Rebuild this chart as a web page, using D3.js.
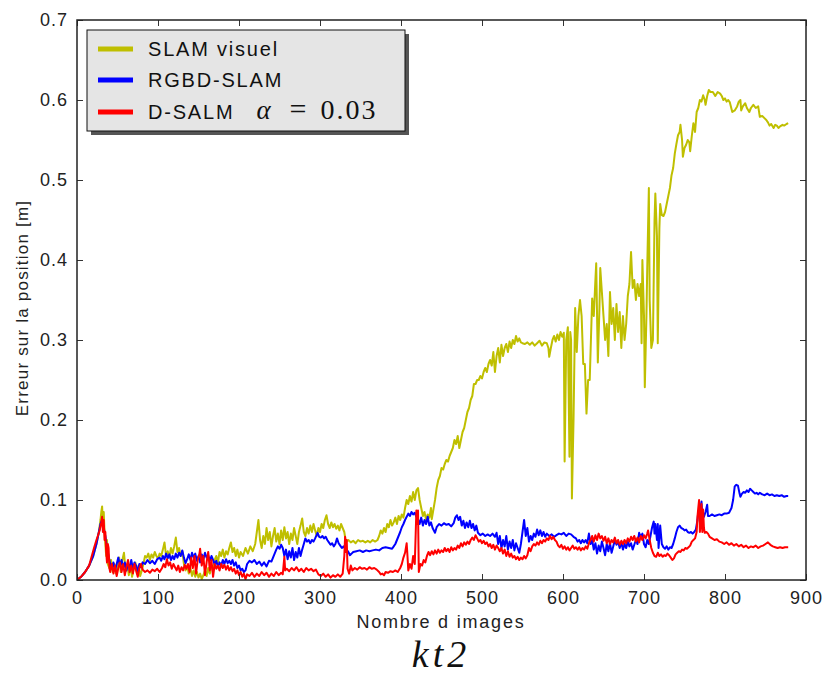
<!DOCTYPE html>
<html><head><meta charset="utf-8">
<script src="https://cdn.jsdelivr.net/npm/d3@7"></script>
<style>body{margin:0;background:#fff;} svg{display:block;}</style>
</head><body>
<div id="chart"></div>
<script>
const seriesNames = ["SLAM visuel", "RGBD-SLAM", "D-SALM"];
const xTicks = [0,100,200,300,400,500,600,700,800,900];
const yTicks = [0.0,0.1,0.2,0.3,0.4,0.5,0.6,0.7];

const yellowFrames = [0,5,10,15,20,24,27,29,30,31,32,33,34,35,36,37,38,40,42,44,46,48,50,52,54,56,58,60,62,64,66,68,70,72,74,76,78,80,82,84,86,88,90,92,94,96,98,100,102,104,106,108,110,112,114,116,118,120,122,124,126,128,130,132,134,136,138,140,142,144,146,148,150,152,154,156,158,160,162,164,166,168,170,172,174,176,178,180,182,184,186,188,190,192,194,196,198,200,202,205,208,211,214,217,220,222,224,226,228,230,232,234,236,238,240,242,244,246,248,250,252,254,256,258,260,262,264,266,268,270,272,274,276,278,280,282,284,286,288,290,292,294,296,298,300,302,304,306,308,310,312,314,316,318,320,322,324,326,328,330,332,335,338,341,344,347,350,353,356,359,362,365,368,371,373,375,377,379,381,383,385,387,389,391,393,395,397,399,401,403,405,407,409,411,413,415,417,419,421,423,425,427,429,431,433,435,437,438,440,442,444,446,448,450,452,454,456,458,460,462,464,466,468,470,472,474,476,478,480,482,484,486,488,490,492,494,496,498,500,502,504,506,508,510,512,514,516,518,520,522,524,526,528,530,532,534,536,538,540,542,544,546,548,550,553,556,559,562,565,568,571,574,577,580,582,583,585,587,589,591,593,595,597,599,601,602,604,606,608,609,610,611,613,615,617,619,621,623,625,627,629,631,633,636,638,640,641,643,645,646,648,650,652,654,656,658,660,662,664,666,668,670,672,674,676,678,680,682,684,686,688,690,692,694,696,697,698,700,701,703,704,706,707,709,711,713,714,716,717,719,720,722,724,726,728,730,732,734,736,738,740,742,744,745,747,748,750,752,754,756,757,759,761,763,765,767,769,771,773,775,776,778,780,782,785,788,791,794,796,798,800,802,804,806,809,812,815,817,819,820,822,825,827,830,832,835,838,841,843,846,849,851,853,855,857,860,862,864,866,868,871,873,876,878];
const yellowValues = [0,0.004,0.01,0.018,0.03,0.045,0.06,0.075,0.085,0.092,0.07,0.085,0.06,0.045,0.03,0.05,0.02,0.015,0.025,0.01,0.02,0.008,0.015,0.028,0.01,0.025,0.034,0.012,0.02,0.006,0.018,0.004,0.015,0.022,0.008,0.018,0.005,0.012,0.02,0.03,0.028,0.033,0.025,0.032,0.028,0.035,0.03,0.027,0.033,0.03,0.038,0.047,0.03,0.036,0.028,0.04,0.033,0.042,0.053,0.035,0.04,0.03,0.036,0.02,0.012,0.018,0.008,0.015,0.005,0.012,0.004,0.01,0.003,0.008,0.001,0.006,0.012,0.005,0.015,0.008,0.018,0.012,0.025,0.03,0.022,0.035,0.03,0.038,0.028,0.036,0.032,0.04,0.047,0.035,0.04,0.03,0.038,0.028,0.035,0.03,0.04,0.033,0.042,0.036,0.045,0.06,0.075,0.05,0.04,0.055,0.045,0.065,0.05,0.06,0.042,0.055,0.065,0.048,0.058,0.045,0.062,0.05,0.066,0.052,0.06,0.045,0.058,0.05,0.065,0.055,0.045,0.06,0.068,0.077,0.06,0.055,0.065,0.058,0.068,0.06,0.07,0.062,0.055,0.065,0.06,0.07,0.065,0.075,0.081,0.07,0.065,0.072,0.066,0.07,0.064,0.068,0.062,0.07,0.065,0.06,0.047,0.05,0.047,0.049,0.046,0.05,0.048,0.049,0.047,0.049,0.047,0.05,0.048,0.05,0.055,0.062,0.058,0.065,0.06,0.07,0.066,0.075,0.068,0.072,0.078,0.07,0.08,0.075,0.082,0.078,0.09,0.1,0.095,0.105,0.098,0.11,0.1,0.112,0.115,0.1,0.09,0.08,0.085,0.075,0.082,0.078,0.09,0.076,0.088,0.1,0.115,0.125,0.13,0.14,0.138,0.145,0.15,0.148,0.155,0.16,0.165,0.175,0.17,0.18,0.165,0.175,0.185,0.19,0.2,0.21,0.215,0.225,0.23,0.245,0.245,0.25,0.25,0.255,0.252,0.26,0.265,0.26,0.27,0.275,0.268,0.285,0.26,0.28,0.29,0.272,0.294,0.28,0.29,0.295,0.285,0.298,0.29,0.3,0.295,0.305,0.298,0.302,0.297,0.296,0.295,0.297,0.294,0.297,0.293,0.296,0.299,0.293,0.297,0.296,0.29,0.279,0.29,0.3,0.305,0.298,0.307,0.3,0.31,0.304,0.309,0.148,0.3,0.316,0.154,0.31,0.3,0.102,0.2,0.34,0.285,0.33,0.35,0.33,0.27,0.27,0.208,0.25,0.25,0.352,0.33,0.375,0.396,0.272,0.34,0.39,0.36,0.33,0.3,0.32,0.28,0.36,0.32,0.34,0.3,0.345,0.31,0.335,0.29,0.33,0.3,0.32,0.355,0.37,0.41,0.365,0.375,0.35,0.37,0.355,0.37,0.296,0.4,0.33,0.241,0.33,0.39,0.49,0.35,0.29,0.3,0.45,0.483,0.43,0.296,0.44,0.47,0.456,0.455,0.46,0.47,0.48,0.49,0.506,0.515,0.533,0.545,0.556,0.56,0.569,0.55,0.529,0.54,0.544,0.55,0.547,0.536,0.555,0.571,0.56,0.585,0.59,0.6,0.598,0.606,0.6,0.594,0.605,0.6125,0.61,0.61,0.605,0.61,0.608,0.605,0.6,0.602,0.598,0.6,0.597,0.585,0.587,0.592,0.598,0.6,0.587,0.592,0.596,0.59,0.585,0.59,0.594,0.59,0.592,0.579,0.58,0.577,0.575,0.572,0.568,0.57,0.565,0.569,0.568,0.565,0.567,0.569,0.568,0.57,0.571];

const blueFrames = [0,5,10,15,20,24,27,29,31,33,35,37,39,41,43,45,47,49,51,53,55,57,59,61,63,65,67,69,71,73,75,77,79,81,84,87,90,93,96,99,102,104,106,108,110,112,114,116,118,120,122,124,126,128,130,132,134,136,138,140,142,144,146,148,150,152,154,156,158,160,162,164,166,168,170,172,174,176,178,180,182,184,186,188,190,192,194,196,198,200,202,204,206,208,210,213,216,219,222,225,228,231,234,237,240,242,244,246,248,250,252,254,256,258,260,262,264,266,268,270,272,274,276,278,280,282,284,286,288,290,292,294,297,299,301,303,305,307,309,311,313,315,317,319,321,323,325,327,329,331,333,335,337,339,341,345,349,353,357,361,365,369,373,377,381,385,389,391,393,395,397,399,401,403,405,407,409,411,413,415,417,419,421,423,425,427,429,431,433,435,437,439,442,444,447,450,453,456,459,462,465,467,469,471,473,475,477,479,481,483,485,487,489,491,493,495,498,501,504,507,510,513,516,518,520,522,524,526,528,530,532,534,536,538,540,542,544,546,548,550,552,554,556,558,560,562,564,566,568,570,572,574,576,578,580,583,586,589,592,595,598,601,604,607,610,613,616,618,620,622,624,626,628,630,632,634,636,638,640,642,644,646,648,650,652,654,656,658,660,662,664,666,668,670,672,674,676,678,680,682,684,686,688,690,692,694,696,698,700,702,704,706,708,710,712,713,714,716,717,718,720,722,724,726,728,730,732,734,736,738,740,742,744,746,748,750,752,754,756,758,760,762,764,766,767,769,771,772,774,776,778,779,781,784,787,790,793,796,799,802,805,808,810,812,814,816,818,819,821,823,825,827,829,831,833,835,837,839,841,843,846,849,852,855,858,861,864,867,870,873,876,878];
const blueValues = [0,0.004,0.01,0.018,0.03,0.045,0.06,0.07,0.075,0.065,0.055,0.04,0.03,0.02,0.015,0.022,0.012,0.02,0.028,0.018,0.025,0.015,0.022,0.012,0.02,0.016,0.025,0.014,0.022,0.018,0.01,0.02,0.016,0.022,0.02,0.025,0.021,0.024,0.02,0.026,0.028,0.024,0.03,0.026,0.033,0.027,0.032,0.025,0.03,0.026,0.033,0.028,0.034,0.03,0.037,0.028,0.021,0.026,0.032,0.025,0.034,0.028,0.033,0.024,0.03,0.022,0.032,0.026,0.034,0.028,0.031,0.024,0.03,0.025,0.02,0.024,0.016,0.022,0.018,0.025,0.02,0.026,0.021,0.024,0.02,0.025,0.018,0.022,0.015,0.018,0.012,0.014,0.01,0.012,0.02,0.024,0.022,0.025,0.02,0.023,0.018,0.022,0.017,0.024,0.023,0.028,0.033,0.038,0.042,0.039,0.044,0.04,0.03,0.038,0.026,0.036,0.028,0.04,0.025,0.035,0.028,0.04,0.03,0.038,0.045,0.052,0.048,0.05,0.046,0.05,0.048,0.052,0.059,0.054,0.053,0.055,0.052,0.054,0.05,0.047,0.044,0.046,0.042,0.045,0.052,0.046,0.043,0.04,0.042,0.039,0.038,0.035,0.031,0.033,0.035,0.036,0.037,0.035,0.037,0.036,0.037,0.038,0.037,0.04,0.041,0.04,0.039,0.042,0.045,0.05,0.055,0.06,0.066,0.07,0.075,0.079,0.083,0.08,0.085,0.082,0.084,0.079,0.076,0.07,0.078,0.068,0.075,0.07,0.079,0.068,0.072,0.065,0.059,0.066,0.07,0.068,0.071,0.069,0.07,0.067,0.071,0.078,0.081,0.075,0.079,0.068,0.074,0.065,0.072,0.066,0.074,0.065,0.07,0.062,0.068,0.059,0.056,0.058,0.055,0.057,0.055,0.058,0.054,0.059,0.045,0.055,0.04,0.05,0.042,0.055,0.038,0.048,0.04,0.05,0.037,0.046,0.04,0.034,0.045,0.06,0.075,0.055,0.065,0.048,0.055,0.05,0.058,0.054,0.063,0.056,0.062,0.055,0.06,0.054,0.058,0.055,0.057,0.054,0.056,0.058,0.057,0.059,0.055,0.058,0.057,0.054,0.052,0.048,0.05,0.046,0.05,0.047,0.05,0.046,0.058,0.045,0.05,0.038,0.046,0.033,0.043,0.036,0.048,0.04,0.031,0.045,0.036,0.046,0.034,0.042,0.05,0.044,0.048,0.04,0.047,0.038,0.045,0.04,0.048,0.042,0.046,0.038,0.044,0.05,0.045,0.059,0.054,0.058,0.045,0.041,0.05,0.045,0.055,0.066,0.073,0.058,0.07,0.05,0.07,0.04,0.068,0.045,0.041,0.039,0.042,0.038,0.041,0.04,0.045,0.052,0.06,0.066,0.068,0.065,0.064,0.062,0.063,0.06,0.059,0.06,0.058,0.06,0.063,0.075,0.085,0.087,0.098,0.08,0.079,0.085,0.094,0.08,0.08,0.082,0.08,0.081,0.082,0.081,0.083,0.083,0.084,0.09,0.1,0.117,0.119,0.118,0.108,0.104,0.108,0.11,0.109,0.112,0.11,0.114,0.112,0.11,0.108,0.109,0.107,0.109,0.107,0.106,0.108,0.106,0.107,0.105,0.106,0.105,0.106,0.104,0.105,0.105];

const redFrames = [0,5,10,15,18,21,24,26,28,30,31,32,33,34,35,36,37,38,39,40,41,43,45,47,49,51,53,55,57,59,61,63,65,67,69,71,73,75,77,79,81,84,87,90,93,96,99,102,105,107,109,111,113,115,117,119,121,123,125,127,129,131,133,135,137,139,141,143,145,147,149,151,152,154,156,158,160,162,164,166,168,170,172,174,176,178,180,182,184,186,188,190,192,194,196,198,200,202,204,206,208,210,213,216,219,222,225,228,231,234,237,240,243,246,249,252,254,256,257,259,262,265,268,271,274,277,280,283,286,289,292,295,298,301,304,307,310,313,316,319,322,325,328,330,331,332,333,334,336,338,340,343,346,349,352,355,358,361,364,367,370,373,375,377,379,381,384,387,390,393,396,399,401,403,405,407,408,409,411,413,415,417,419,420,421,422,424,426,428,430,432,434,436,438,440,442,444,446,448,450,452,454,456,458,460,462,464,466,468,470,472,474,476,478,480,482,484,486,488,490,492,494,496,498,500,502,504,506,508,510,512,514,516,518,520,522,524,526,528,530,532,534,536,538,540,542,544,546,548,550,552,554,556,558,560,562,564,566,568,570,572,574,576,578,580,582,584,586,588,590,592,594,596,598,600,602,604,606,608,610,612,614,616,618,620,622,624,626,628,630,632,634,636,638,640,642,644,646,648,650,652,654,656,658,660,662,664,666,668,670,672,674,676,678,680,682,684,686,688,690,692,694,696,698,700,702,704,705,707,709,711,713,715,717,719,721,723,725,727,729,731,733,735,737,739,741,743,745,747,749,751,753,755,757,759,761,763,765,766,767,768,769,770,771,772,773,774,775,777,779,781,784,787,790,793,796,799,802,805,808,811,814,817,820,823,826,829,832,835,838,841,844,847,850,853,856,859,862,865,868,871,874,878];
const redValues = [0,0.004,0.01,0.018,0.029,0.04,0.05,0.056,0.062,0.072,0.079,0.06,0.075,0.05,0.06,0.035,0.022,0.045,0.04,0.015,0.01,0.02,0.008,0.018,0.005,0.015,0.022,0.01,0.02,0.006,0.016,0.025,0.01,0.018,0.008,0.02,0.012,0.004,0.015,0.02,0.013,0.01,0.012,0.009,0.013,0.011,0.014,0.01,0.015,0.02,0.016,0.026,0.018,0.022,0.014,0.02,0.016,0.012,0.018,0.01,0.016,0.012,0.019,0.014,0.02,0.01,0.028,0.015,0.03,0.008,0.025,0.032,0.039,0.018,0.03,0.006,0.022,0.035,0.012,0.025,0.004,0.02,0.014,0.018,0.012,0.02,0.015,0.019,0.013,0.018,0.012,0.016,0.011,0.014,0.008,0.012,0.006,0.01,0.004,0.008,0.001,0.007,0.005,0.009,0.004,0.008,0.005,0.01,0.006,0.009,0.004,0.008,0.005,0.01,0.006,0.009,0.007,0.029,0.012,0.014,0.011,0.015,0.012,0.016,0.011,0.014,0.01,0.015,0.012,0.014,0.011,0.013,0.007,0.005,0.008,0.004,0.007,0.003,0.006,0.004,0.007,0.004,0.008,0.03,0.054,0.035,0.05,0.014,0.008,0.018,0.012,0.015,0.013,0.016,0.014,0.015,0.013,0.016,0.014,0.015,0.013,0.01,0.007,0.008,0.006,0.01,0.009,0.011,0.01,0.012,0.01,0.015,0.02,0.028,0.034,0.046,0.03,0.012,0.02,0.014,0.03,0.02,0.087,0.07,0.087,0.01,0.02,0.018,0.025,0.022,0.03,0.035,0.031,0.036,0.032,0.037,0.033,0.038,0.034,0.037,0.035,0.04,0.036,0.039,0.035,0.041,0.037,0.04,0.038,0.043,0.04,0.046,0.042,0.047,0.044,0.048,0.045,0.05,0.053,0.05,0.056,0.052,0.048,0.05,0.046,0.049,0.045,0.047,0.042,0.045,0.04,0.044,0.038,0.043,0.04,0.036,0.04,0.033,0.038,0.03,0.036,0.029,0.033,0.028,0.03,0.026,0.029,0.025,0.028,0.026,0.03,0.027,0.031,0.04,0.036,0.042,0.045,0.043,0.047,0.044,0.049,0.046,0.05,0.048,0.052,0.05,0.055,0.051,0.054,0.05,0.048,0.043,0.041,0.044,0.039,0.042,0.038,0.041,0.037,0.04,0.043,0.039,0.041,0.038,0.041,0.037,0.04,0.038,0.042,0.039,0.046,0.05,0.055,0.048,0.056,0.05,0.058,0.052,0.055,0.049,0.054,0.046,0.052,0.045,0.05,0.047,0.053,0.046,0.05,0.044,0.049,0.045,0.05,0.046,0.052,0.048,0.054,0.05,0.055,0.048,0.053,0.047,0.055,0.05,0.056,0.052,0.058,0.062,0.05,0.04,0.034,0.03,0.029,0.034,0.03,0.032,0.029,0.031,0.03,0.033,0.031,0.028,0.025,0.027,0.032,0.034,0.036,0.035,0.038,0.037,0.04,0.039,0.041,0.043,0.048,0.05,0.052,0.06,0.079,0.09,0.1,0.06,0.07,0.095,0.06,0.088,0.065,0.059,0.06,0.058,0.054,0.052,0.05,0.051,0.048,0.047,0.045,0.047,0.044,0.046,0.043,0.045,0.042,0.044,0.041,0.043,0.04,0.042,0.041,0.043,0.04,0.042,0.043,0.045,0.047,0.044,0.042,0.041,0.04,0.041,0.04,0.041,0.041];

const W = 826, H = 675;
const svg = d3.select("#chart").append("svg").attr("width", W).attr("height", H);
const x = d3.scaleLinear().domain([0, 900]).range([77, 806]);
const y = d3.scaleLinear().domain([0, 0.7]).range([580, 20]);

svg.append("clipPath").attr("id","clip").append("rect")
  .attr("x", 77).attr("y", 20).attr("width", 729).attr("height", 560);

const series = [
  {name: seriesNames[0], frames: yellowFrames, values: yellowValues, color: "#bfbf00"},
  {name: seriesNames[1], frames: blueFrames, values: blueValues, color: "#0000ff"},
  {name: seriesNames[2], frames: redFrames, values: redValues, color: "#ff0000"}
];
const line = d3.line().x(d => x(d[0])).y(d => y(d[1]));
const g = svg.append("g").attr("clip-path", "url(#clip)");
series.forEach(s => {
  const pts = s.frames.map((f, i) => [f, s.values[i]]);
  g.append("path").datum(pts).attr("d", line).attr("fill", "none")
    .attr("stroke", s.color).attr("stroke-width", 2).attr("stroke-linejoin", "round");
});

const tickFont = "Liberation Sans, Arial, sans-serif";
const axB = svg.append("g").attr("transform", "translate(0,580)")
  .call(d3.axisBottom(x).tickValues(xTicks).tickSize(-6).tickPadding(11).tickFormat(d3.format("d")));
const axT = svg.append("g").attr("transform", "translate(0,20)")
  .call(d3.axisTop(x).tickValues(xTicks).tickSize(-6).tickFormat(""));
const axL = svg.append("g").attr("transform", "translate(77,0)")
  .call(d3.axisLeft(y).tickValues(yTicks).tickSize(-6).tickPadding(9).tickFormat(d3.format(".1f")));
const axR = svg.append("g").attr("transform", "translate(806,0)")
  .call(d3.axisRight(y).tickValues(yTicks).tickSize(-6).tickFormat(""));
[axB, axT, axL, axR].forEach(a => {
  a.select(".domain").remove();
  a.selectAll(".tick line").attr("stroke", "#333").attr("stroke-width", 1);
  a.selectAll("text").attr("font-family", tickFont).attr("font-size", 18)
    .attr("letter-spacing", 1).attr("fill", "#222");
});
axB.selectAll("text").attr("dy", "0.71em");
svg.append("rect").attr("x", 77).attr("y", 20).attr("width", 729).attr("height", 560)
  .attr("fill", "none").attr("stroke", "#222").attr("stroke-width", 1.5);

svg.append("text").attr("x", 441).attr("y", 628).attr("text-anchor", "middle")
  .attr("font-family", tickFont).attr("font-size", 18).attr("letter-spacing", 1.8)
  .attr("fill", "#222").text("Nombre d images");
svg.append("text").attr("transform", "translate(28,308) rotate(-90)").attr("text-anchor", "middle")
  .attr("font-family", tickFont).attr("font-size", 17).attr("letter-spacing", 1.2)
  .attr("fill", "#222").text("Erreur sur la position [m]");
svg.append("text").attr("x", 441).attr("y", 667).attr("text-anchor", "middle")
  .attr("font-family", "Liberation Serif, serif").attr("font-style", "italic").attr("font-size", 38)
  .attr("letter-spacing", 4).attr("fill", "#111").text("kt2");

const lg = svg.append("g");
lg.append("rect").attr("x", 91).attr("y", 34).attr("width", 318).attr("height", 101).attr("fill", "#555");
lg.append("rect").attr("x", 87).attr("y", 30).attr("width", 318).attr("height", 101)
  .attr("fill", "#e5e5e5").attr("stroke", "#111").attr("stroke-width", 1);
const legendY = [49, 80, 112];
series.forEach((s, i) => {
  lg.append("line").attr("x1", 98).attr("x2", 133).attr("y1", legendY[i]).attr("y2", legendY[i])
    .attr("stroke", s.color).attr("stroke-width", 5);
  const t = lg.append("text").attr("x", 148).attr("y", legendY[i] + 7)
    .attr("font-family", tickFont).attr("font-size", 20).attr("letter-spacing", 1.8).attr("fill", "#111");
  t.append("tspan").text(s.name);
  if (i === 2) {
    t.append("tspan").attr("font-family", "Liberation Serif, serif").attr("font-style", "italic")
      .attr("font-size", 27).attr("letter-spacing", 0).attr("dx", 22).text("α");
    t.append("tspan").attr("font-family", "Liberation Serif, serif").attr("font-size", 30)
      .attr("letter-spacing", 0).attr("dx", 19).text("=");
    t.append("tspan").attr("font-family", "Liberation Serif, serif").attr("font-size", 28)
      .attr("letter-spacing", 2).attr("dx", 14).text("0.03");
  }
});
</script>
</body></html>
